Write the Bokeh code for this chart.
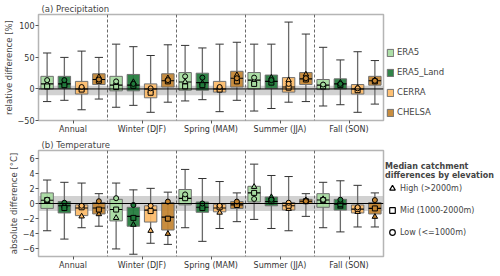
import numpy as np
from bokeh.plotting import figure
from bokeh.models import (ColumnDataSource, Span, BoxAnnotation, FixedTicker,
                          Legend, LegendItem)
from bokeh.layouts import column
from bokeh.embed import file_html
from bokeh.resources import INLINE

seasons = ["Annual", "Winter (DJF)", "Spring (MAM)", "Summer (JJA)", "Fall (SON)"]
datasets = ["ERA5", "ERA5_Land", "CERRA", "CHELSA"]
colors = {"ERA5": "#a6dba0", "ERA5_Land": "#1f7a3a", "CERRA": "#fdbb68", "CHELSA": "#c3832f"}

# ---------- precipitation: relative difference [%] ----------
pr_lo  = {"ERA5": [-20, -29, -19, -35, -27], "ERA5_Land": [-18, -26, -17, -31, -25],
          "CERRA": [-33, -37, -36, -21, -37], "CHELSA": [-16, -21, -18, -20, -24]}
pr_q1  = {"ERA5": [0, -3, -2, 0, -1], "ERA5_Land": [1, -3, -2, 1, 0],
          "CERRA": [-8, -14, -5, -5, -8], "CHELSA": [7, 3, 3, 7, 6]}
pr_med = {"ERA5": [8, 6, 11, 14, 6], "ERA5_Land": [8, 6, 10, 12, 8],
          "CERRA": [0, 0, 0, 3, 0], "CHELSA": [15, 13, 17, 16, 13]}
pr_q3  = {"ERA5": [20, 20, 26, 26, 15], "ERA5_Land": [20, 23, 25, 22, 16],
          "CERRA": [12, 8, 12, 18, 7], "CHELSA": [24, 24, 28, 26, 20]}
pr_hi  = {"ERA5": [57, 71, 69, 71, 66], "ERA5_Land": [50, 67, 65, 71, 46],
          "CERRA": [60, 53, 71, 106, 59], "CHELSA": [50, 70, 74, 87, 45]}
pr_high = {"ERA5": [8, 10, 11, 13, 6], "ERA5_Land": [9, 11, 9, 18, 10],
           "CERRA": [1, -3, 1, 14, 2], "CHELSA": [19, 17, 22, 23, 14]}
pr_mid  = {"ERA5": [4, 3, 4, 8, 4], "ERA5_Land": [6, 5, 6, 10, 6],
           "CERRA": [-1, -6, -1, 2, -2], "CHELSA": [13, 12, 12, 15, 12]}
pr_low  = {"ERA5": [14, 12, 20, 18, 7], "ERA5_Land": [14, 8, 18, 14, 8],
           "CERRA": [3, 1, 3, 8, 1], "CHELSA": [15, 14, 17, 17, 13]}

# ---------- temperature: absolute difference [degC] ----------
ta_lo  = {"ERA5": [-3.6, -6.0, -3.2, -2.1, -3.2], "ERA5_Land": [-4.7, -6.7, -5.0, -3.3, -3.75],
          "CERRA": [-3.2, -5.25, -3.3, -3.6, -3.1], "CHELSA": [-3.0, -5.4, -2.4, -1.7, -3.1]}
ta_q1  = {"ERA5": [-0.65, -2.3, -0.18, 0.2, -0.5], "ERA5_Land": [-1.25, -3.0, -1.16, -0.3, -0.87],
          "CERRA": [-1.6, -2.45, -1.1, -0.86, -1.25], "CHELSA": [-1.38, -3.5, -0.65, 0.0, -1.38]}
ta_med = {"ERA5": [0.43, -0.8, 0.68, 1.4, 0.47], "ERA5_Land": [-0.3, -1.7, -0.5, 0.26, -0.1],
          "CERRA": [-0.6, -0.87, -0.6, -0.3, -0.74], "CHELSA": [-0.6, -1.8, -0.18, 0.3, -0.65]}
ta_q3  = {"ERA5": [1.4, 0.55, 1.85, 2.27, 1.3], "ERA5_Land": [0.26, -0.5, 0.2, 0.85, 0.55],
          "CERRA": [-0.18, -0.3, -0.1, 0.13, -0.2], "CHELSA": [0.13, 0.13, 0.26, 0.55, 0.13]}
ta_hi  = {"ERA5": [3.1, 2.7, 4.5, 5.2, 2.8], "ERA5_Land": [2.8, 1.8, 3.3, 3.7, 3.0],
          "CERRA": [2.7, 2.0, 2.9, 3.56, 2.4], "CHELSA": [1.3, 1.5, 1.4, 1.3, 1.4]}
ta_high = {"ERA5": [0.3, -1.9, 0.95, 2.2, 0.6], "ERA5_Land": [-0.3, -2.8, -0.4, 0.85, -0.4],
           "CERRA": [-1.7, -3.6, -1.2, -0.7, -1.1], "CHELSA": [-1.4, -4.0, 0.0, 0.45, -1.75]}
ta_mid  = {"ERA5": [0.45, -0.8, 0.7, 1.4, 0.45], "ERA5_Land": [-0.6, -1.9, -0.6, 0.3, -0.1],
           "CERRA": [-0.5, -1.0, -0.5, -0.3, -0.7], "CHELSA": [-0.8, -2.0, -0.2, 0.3, -0.65]}
ta_low  = {"ERA5": [0.5, 0.7, 1.2, 0.6, 0.5], "ERA5_Land": [0.1, -0.2, 0.0, 0.5, 0.5],
           "CERRA": [-0.3, -0.3, -0.3, 0.1, -0.5], "CHELSA": [0.3, 0.25, 0.25, 0.3, 0.45]}

elev_labels = ["High (>2000m)", "Mid (1000-2000m)", "Low (<=1000m)"]

offsets = [-0.375, -0.125, 0.125, 0.375]
FONT = "DejaVu Sans"


def make_panel(title, ylabel, yr, yticks, overrides, band,
               lo, q1, med, q3, hi, high, mid, low, legend_kind):
    p = figure(frame_width=345, frame_height=106, x_range=(-0.5, 4.5), y_range=yr,
               output_backend="svg", toolbar_location=None,
               min_border_left=28, min_border_right=0, min_border_top=0, min_border_bottom=0)
    p.title.text = title
    p.title.text_font = FONT
    p.title.text_font_size = "8.5px"
    p.title.text_font_style = "normal"
    p.title.offset = 3
    p.title.standoff = 2
    p.grid.visible = False
    p.outline_line_color = "#b5b5b5"
    p.outline_line_width = 1.5
    for ax in (p.xaxis[0], p.yaxis[0]):
        ax.axis_line_color = None
        ax.major_tick_line_color = "#555555"
        ax.minor_tick_line_color = None
        ax.major_tick_in = 0
        ax.major_tick_out = 3
        ax.major_label_standoff = 1
        ax.major_label_text_font = FONT
        ax.major_label_text_font_size = "8px"
        ax.major_label_text_color = "#333333"
    p.xaxis.ticker = FixedTicker(ticks=list(range(len(seasons))))
    p.xaxis.major_label_overrides = {i: s for i, s in enumerate(seasons)}
    p.yaxis.ticker = FixedTicker(ticks=yticks)
    if overrides:
        p.yaxis.major_label_overrides = overrides
    p.yaxis.axis_label = ylabel
    p.yaxis.axis_label_text_font = FONT
    p.yaxis.axis_label_text_font_size = "8.5px"
    p.yaxis.axis_label_text_font_style = "normal"
    p.yaxis.axis_label_standoff = 1

    p.add_layout(BoxAnnotation(bottom=band[0], top=band[1], fill_color="#b8b8b8",
                               fill_alpha=0.65, line_color=None, level="underlay"))
    for s in [0.5, 1.5, 2.5, 3.5]:
        p.add_layout(Span(location=s, dimension="height", line_color="#444444",
                          line_width=0.8, line_dash="3 2"))

    box_renderers = []
    for k, d in enumerate(datasets):
        x = np.arange(len(seasons)) + offsets[k]
        src = ColumnDataSource(dict(x=x, l=x - 0.09, r=x + 0.09, cl=x - 0.06, cr=x + 0.06,
                                    lo=lo[d], q1=q1[d], med=med[d], q3=q3[d], hi=hi[d],
                                    high=high[d], mid=mid[d], low=low[d]))
        p.segment(x0="x", y0="lo", x1="x", y1="hi", source=src, line_color="#6a6a6a", line_width=1.3)
        p.segment(x0="cl", y0="hi", x1="cr", y1="hi", source=src, line_color="#333333", line_width=1)
        p.segment(x0="cl", y0="lo", x1="cr", y1="lo", source=src, line_color="#333333", line_width=1)
        r = p.quad(left="l", right="r", bottom="q1", top="q3", source=src,
                   fill_color=colors[d], fill_alpha=0.92, line_color="#707070", line_width=1)
        box_renderers.append(r)
        p.segment(x0="l", y0="med", x1="r", y1="med", source=src, line_color="black", line_width=1.1)
        for col, mk, sz in (("high", "triangle", 5.5), ("mid", "square", 5), ("low", "circle", 5)):
            p.scatter(x="x", y=col, source=src, marker=mk, size=sz, fill_color=colors[d],
                      line_color="black", line_width=1)

    p.add_layout(Span(location=0, dimension="width", line_color="black", line_width=1))

    if legend_kind == "datasets":
        items = [LegendItem(label=d, renderers=[box_renderers[k]]) for k, d in enumerate(datasets)]
        leg = Legend(items=items, location=(3, 3), glyph_width=8, glyph_height=9,
                     label_height=10, spacing=10, padding=2, margin=3, label_standoff=3,
                     label_text_font=FONT, label_text_font_size="8.5px",
                     border_line_color=None, background_fill_alpha=0)
    else:
        proxies = []
        for mk in ("triangle", "square", "circle"):
            proxies.append(p.scatter(x=np.array([np.nan]), y=np.array([np.nan]), marker=mk,
                                     size=6, fill_color="white", line_color="black", line_width=1.2))
        items = [LegendItem(label=t, renderers=[r]) for t, r in zip(elev_labels, proxies)]
        leg = Legend(items=items, location=(2, 17), glyph_width=14, glyph_height=14,
                     label_height=14, spacing=8, padding=1, margin=2, label_standoff=1,
                     label_text_font=FONT, label_text_font_size="8px",
                     title="Median catchment\ndifferences by elevation",
                     title_text_font=FONT, title_text_font_size="8px",
                     title_text_font_style="bold", title_standoff=1,
                     border_line_color=None, background_fill_alpha=0)
    p.add_layout(leg, "right")
    return p


pa = make_panel("(a) Precipitation", "relative difference [%]", (-50, 118), [-50, 0, 50, 100],
                None, (-10, 5), pr_lo, pr_q1, pr_med, pr_q3, pr_hi, pr_high, pr_mid, pr_low,
                "datasets")
pb = make_panel("(b) Temperature", "absolute difference [°C]", (-7, 7), [-6, -4, -2, 0, 2, 4, 6],
                {v: (("\u2212" + str(-v)) if v < 0 else str(v)) for v in [-6, -4, -2, 0, 2, 4, 6]},
                (-1, 1), ta_lo, ta_q1, ta_med, ta_q3, ta_hi, ta_high, ta_mid, ta_low, "markers")

layout = column(pa, pb, spacing=0)
open("out.html", "w").write(file_html(layout, INLINE))
